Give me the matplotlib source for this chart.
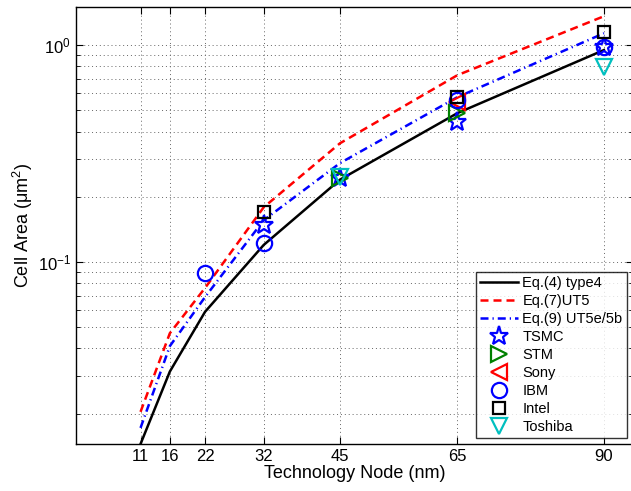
import matplotlib
matplotlib.use("Agg")
import matplotlib.pyplot as plt
from matplotlib.ticker import FixedLocator, LogLocator, NullFormatter

plt.rcParams['font.family'] = ['Liberation Sans', 'DejaVu Sans']
plt.rcParams['mathtext.fontset'] = 'custom'
plt.rcParams['mathtext.rm'] = 'Liberation Sans'
plt.rcParams['mathtext.it'] = 'Liberation Sans:italic'

nodes = [11, 16, 22, 32, 45, 65, 90]
eq4_type4 = [0.0145, 0.0313, 0.059, 0.12, 0.24, 0.486, 0.95]
eq7_ut5 = [0.0204, 0.047, 0.076, 0.179, 0.353, 0.727, 1.36]
eq9_ut5e = [0.0172, 0.041, 0.069, 0.156, 0.286, 0.576, 1.135]

tsmc_x = [32, 45, 65, 90]
tsmc_y = [0.148, 0.243, 0.443, 0.98]
stm_x = [45, 65]
stm_y = [0.243, 0.486]
sony_x = [65]
sony_y = [0.55]
ibm_x = [22, 32, 65, 90]
ibm_y = [0.089, 0.123, 0.558, 0.98]
intel_x = [32, 65, 90]
intel_y = [0.17, 0.574, 1.15]
toshiba_x = [45, 90]
toshiba_y = [0.247, 0.794]

xticks = [11, 16, 22, 32, 45, 65, 90]

fig = plt.figure(figsize=(6.31, 4.91), dpi=100)
ax_w = (633.3 - 76) / 631
ax = fig.add_axes([76/631, 1-444/491, ax_w, (444-7)/491])

lw = 1.8
ax.semilogy(nodes, eq4_type4, '-', color='k', lw=lw, label='Eq.(4) type4')
ax.semilogy(nodes, eq7_ut5, '--', color='r', lw=lw, label='Eq.(7)UT5', dashes=(3.2, 2.0))
ax.semilogy(nodes, eq9_ut5e, '-.', color='b', lw=lw, label='Eq.(9) UT5e/5b', dashes=(3.2, 1.6, 0.5, 1.6))

ms = 11
mew = 1.6
ax.plot(tsmc_x, tsmc_y, linestyle='none', marker='*', ms=ms+3, mfc='none', mec='b', mew=mew, label='TSMC')
ax.plot(stm_x, stm_y, linestyle='none', marker='>', ms=ms, mfc='none', mec='g', mew=mew, label='STM')
ax.plot(sony_x, sony_y, linestyle='none', marker='<', ms=ms, mfc='none', mec='r', mew=mew, label='Sony')
ax.plot(ibm_x, ibm_y, linestyle='none', marker='o', ms=ms, mfc='none', mec='b', mew=mew, label='IBM')
ax.plot(intel_x, intel_y, linestyle='none', marker='s', ms=ms-2, mfc='none', mec='k', mew=mew, label='Intel')
ax.plot(toshiba_x, toshiba_y, linestyle='none', marker='v', ms=ms+1, mfc='none', mec='c', mew=mew, label='Toshiba')

ax.set_xlim(0, 95)
ax.set_ylim(0.0145, 1.5)
ax.xaxis.set_major_locator(FixedLocator(xticks))
ax.set_xticklabels([str(v) for v in xticks])
ax.yaxis.set_major_locator(LogLocator(base=10))
ax.yaxis.set_minor_locator(LogLocator(base=10, subs=range(2, 10)))
ax.yaxis.set_minor_formatter(NullFormatter())

gstyle = dict(linestyle=(0, (1, 3)), color='0.4', lw=0.7)
ax.grid(True, which='major', axis='both', **gstyle)
ax.grid(True, which='minor', axis='y', **gstyle)
ax.tick_params(direction='in', which='both', labelsize=12, top=True, right=True)
ax.tick_params(which='major', length=5)
ax.tick_params(which='minor', length=3)
for s in ax.spines.values():
    s.set_linewidth(1.0)

ax.set_xlabel('Technology Node (nm)', fontsize=13, labelpad=1)
ax.set_ylabel('Cell Area (μm$^2$)', fontsize=13, labelpad=2)

leg = ax.legend(loc='lower right', bbox_to_anchor=((627-76)/(633.3-76), 6/437),
                fontsize=10.5, frameon=True, fancybox=False, edgecolor='k',
                borderpad=0.3, labelspacing=0.27, handlelength=2.6, handletextpad=0.3,
                borderaxespad=0.0)
leg.get_frame().set_linewidth(1.0)

fig.savefig('out.png', dpi=100)
